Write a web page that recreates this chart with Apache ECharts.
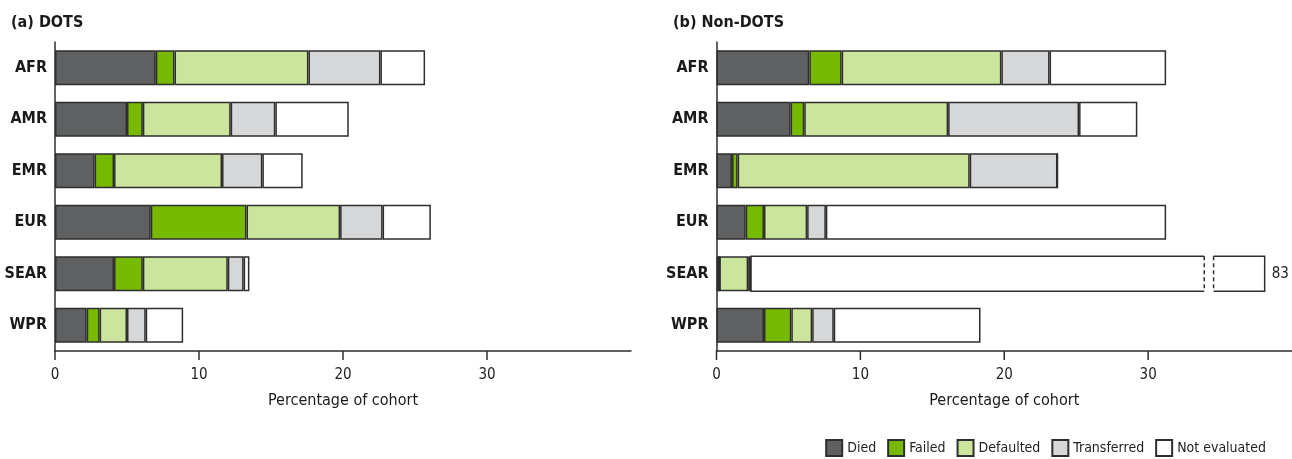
<!DOCTYPE html>
<html>
<head>
<meta charset="utf-8">
<script src="https://cdn.jsdelivr.net/npm/echarts@6/dist/echarts.min.js"></script>
<style>
  html, body { margin: 0; padding: 0; background: #fff; }
  #chart { width: 1292px; height: 459px; }
</style>
</head>
<body>
<div id="chart"></div>
<script>
// regions, top to bottom
var regions = ['AFR', 'AMR', 'EMR', 'EUR', 'SEAR', 'WPR'];
var outcomes = ['Died', 'Failed', 'Defaulted', 'Transferred', 'Not evaluated'];
var tickValues = [0, 10, 20, 30];

// (a) DOTS, percentage of cohort
var dotsDied = [7.0, 5.0, 2.75, 6.65, 4.1, 2.2];
var dotsFailed = [1.3, 1.1, 1.35, 6.65, 2.0, 0.9];
var dotsDefaulted = [9.3, 6.1, 7.5, 6.5, 5.9, 1.9];
var dotsTransferred = [5.0, 3.1, 2.8, 2.95, 1.1, 1.3];
var dotsNotEval = [3.1, 5.1, 2.8, 3.35, 0.4, 2.6];

// (b) Non-DOTS
var nonDied = [6.45, 5.15, 1.08, 2.03, 0.2, 3.3];
var nonFailed = [2.25, 0.95, 0.39, 1.27, 0, 1.9];
var nonDefaulted = [11.1, 10.0, 16.13, 3.0, 2.0, 1.45];
var nonTransferred = [3.35, 9.1, 6.1, 1.3, 0.2, 1.5];
var nonNotEval = [8.1, 4.05, 0, 23.65, 80.6, 10.2];

// SEAR not evaluated is too long: draw it with a broken bar
var searTotal = 83;
var searBreak = { at: 33.9, gap: 0.65, hidden: 44.9 };

var colors = ['#5f6062', '#76b900', '#cce59d', '#d6d7d9', '#ffffff'];
var font = "'Liberation Sans Narrow', 'DejaVu Sans Condensed', 'Roboto', sans-serif";
var barH = 35;

var dotsData = [dotsDied, dotsFailed, dotsDefaulted, dotsTransferred, dotsNotEval];
var nonData = [nonDied, nonFailed, nonDefaulted, nonTransferred, nonNotEval];

function makeSeries(data, idx, stack) {
  return outcomes.map(function (name, i) {
    return {
      name: name,
      type: 'bar',
      stack: stack,
      xAxisIndex: idx,
      yAxisIndex: idx,
      barWidth: barH,
      itemStyle: { color: colors[i], borderColor: '#2e2e2e', borderWidth: 1.5 },
      data: data[i].map(function (v, k) {
        // the broken SEAR bar is drawn by the custom series below
        if (idx === 1 && i === 4 && regions[k] === 'SEAR') return '-';
        return v;
      }),
      silent: true
    };
  });
}

var searIdx = regions.indexOf('SEAR');
var searStart = nonDied[searIdx] + nonFailed[searIdx] + nonDefaulted[searIdx] + nonTransferred[searIdx];

var brokenBar = {
  type: 'custom',
  name: 'Not evaluated',
  xAxisIndex: 1,
  yAxisIndex: 1,
  silent: true,
  clip: false,
  encode: { x: [0, 1], y: 2 },
  data: [[searStart, searTotal, 'SEAR']],
  renderItem: function (params, api) {
    var cat = api.value(2);
    var s = api.value(0), total = api.value(1);
    var yc = api.coord([0, cat])[1];
    var top = yc - barH / 2, bot = yc + barH / 2;
    var x0 = api.coord([s, cat])[0];
    var xb = api.coord([searBreak.at, cat])[0];
    var xr = api.coord([searBreak.at + searBreak.gap, cat])[0];
    var xe = api.coord([total - searBreak.hidden, cat])[0];
    var solid = { stroke: '#2e2e2e', lineWidth: 1.5, fill: null };
    var dashed = { stroke: '#2e2e2e', lineWidth: 1.5, lineDash: [4, 3] };
    return {
      type: 'group',
      children: [
        { type: 'rect', shape: { x: x0, y: top, width: xb - x0, height: barH }, style: { fill: '#fff' } },
        { type: 'polyline', shape: { points: [[xb, top], [x0, top], [x0, bot], [xb, bot]] }, style: solid },
        { type: 'line', shape: { x1: xb, y1: top, x2: xb, y2: bot }, style: dashed },
        { type: 'rect', shape: { x: xr, y: top, width: xe - xr, height: barH }, style: { fill: '#fff' } },
        { type: 'polyline', shape: { points: [[xr, top], [xe, top], [xe, bot], [xr, bot]] }, style: solid },
        { type: 'line', shape: { x1: xr, y1: top, x2: xr, y2: bot }, style: dashed },
        { type: 'text', x: xe + 7, y: yc,
          style: { text: String(total), fill: '#222', font: '15px ' + font, verticalAlign: 'middle', align: 'left' } }
      ]
    };
  }
};

// tick marks: drawn in a thin helper grid right under each value axis,
// through a hidden copy of that axis (0..40), so nothing falls outside a grid
function tickSeries(idx) {
  return {
    type: 'custom',
    xAxisIndex: idx,
    yAxisIndex: idx,
    silent: true,
    encode: { x: 0, y: 1 },
    data: tickValues.map(function (v) { return [v, 0]; }),
    renderItem: function (params, api) {
      var x = api.coord([api.value(0), 0])[0];
      var cs = params.coordSys;
      return {
        type: 'line',
        shape: { x1: x, y1: cs.y, x2: x, y2: cs.y + cs.height },
        style: { stroke: '#2e2e2e', lineWidth: 1.5 }
      };
    }
  };
}

function xAxis(idx) {
  return {
    type: 'value', gridIndex: idx, min: 0, max: 40, interval: 10,
    name: 'Percentage of cohort', nameLocation: 'middle', nameGap: 42,
    nameMoveOverlap: false,
    nameTextStyle: { fontFamily: font, fontSize: 16, color: '#1a1a1a' },
    splitLine: { show: false },
    axisLine: { show: true, lineStyle: { color: '#2e2e2e', width: 1.5 } },
    axisTick: { show: false },
    axisLabel: { customValues: tickValues, fontFamily: font, fontSize: 15, color: '#222', margin: 17 }
  };
}

function yAxis(idx) {
  return {
    type: 'category', gridIndex: idx, data: regions, inverse: true,
    axisLine: { show: true, lineStyle: { color: '#2e2e2e', width: 1.5 } },
    axisTick: { show: false },
    axisLabel: { fontFamily: font, fontSize: 16, fontWeight: 'bold', color: '#1a1a1a', margin: 8 }
  };
}

function helperX(idx) {
  return { type: 'value', gridIndex: idx, min: 0, max: 40, show: false };
}
function helperY(idx) {
  return { type: 'value', gridIndex: idx, min: 0, max: 1, show: false };
}

var chart = echarts.init(document.getElementById('chart'), null, { renderer: 'canvas' });
chart.setOption({
  backgroundColor: '#fff',
  animation: false,
  title: [
    { text: '(a) DOTS', left: 6, top: 10, textStyle: { fontFamily: font, fontSize: 16, fontWeight: 'bold', color: '#1a1a1a' } },
    { text: '(b) Non-DOTS', left: 668, top: 10, textStyle: { fontFamily: font, fontSize: 16, fontWeight: 'bold', color: '#1a1a1a' } }
  ],
  legend: {
    data: outcomes,
    right: 26, bottom: 2,
    padding: 0,
    itemWidth: 16, itemHeight: 16, itemGap: 11,
    icon: 'rect',
    selectedMode: false,
    textStyle: { fontFamily: font, fontSize: 14, color: '#222' }
  },
  grid: [
    { left: 55, right: 661, top: 42, bottom: 108 },
    { left: 716.5, right: 0, top: 42, bottom: 108 },
    { left: 55, right: 661, top: 351, height: 9 },
    { left: 716.5, right: 0, top: 351, height: 9 }
  ],
  xAxis: [xAxis(0), xAxis(1), helperX(2), helperX(3)],
  yAxis: [yAxis(0), yAxis(1), helperY(2), helperY(3)],
  series: makeSeries(dotsData, 0, 'dots')
    .concat(makeSeries(nonData, 1, 'non'))
    .concat([brokenBar, tickSeries(2), tickSeries(3)])
});
</script>
</body>
</html>
